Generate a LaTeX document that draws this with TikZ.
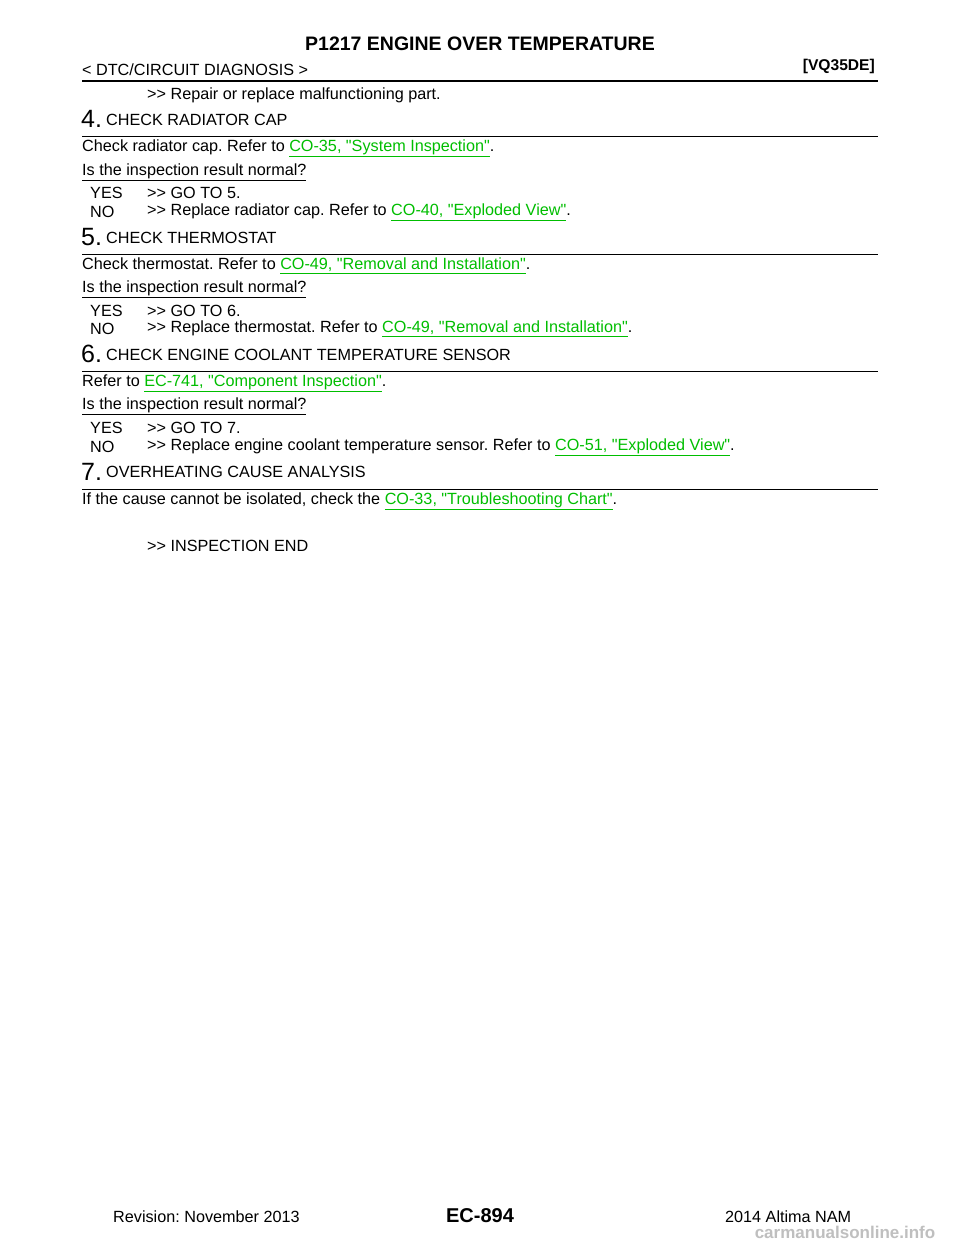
\documentclass[tikz,border=0pt]{standalone}
\usepackage{fontspec}
\setmainfont{Liberation Sans}[Ligatures=TeXOff]
\definecolor{lnk}{RGB}{0,190,0}
\newcommand{\lk}[1]{\textcolor{lnk}{\underline{#1}}}
\frenchspacing
\begin{document}
\begin{tikzpicture}[x=1pt,y=-1pt,
  tx/.style={anchor=west,inner sep=0pt,font=\fontsize{16.2}{18}\selectfont},
  big/.style={anchor=base west,inner sep=0pt,font=\fontsize{25}{28}\selectfont},
  rule/.style={line width=0.8pt}]
\useasboundingbox[fill=white] (0,0) rectangle (960,1242);
\node[anchor=center,inner sep=0pt,font=\fontsize{19.5}{22}\selectfont\bfseries] (title) at (480,44) {P1217 ENGINE OVER TEMPERATURE};
\node[tx] (dtc) at (82,70) {< DTC/CIRCUIT DIAGNOSIS >};
\node[anchor=east,inner sep=0pt,font=\fontsize{15.6}{18}\selectfont\bfseries] (vq) at (875,66) {[VQ35DE]};
\draw[line width=2pt] (82,81) -- (878,81);
\node[tx] (r0) at (147,95) {>> Repair or replace malfunctioning part.};
% 4
\node[big] (s4n) at (81,127) {4.};
\node[tx] (s4) at (106,120) {CHECK RADIATOR CAP};
\draw[rule] (82,136) -- (878,136);
\node[tx] (c4) at (82,148) {Check radiator cap. Refer to \lk{CO-35, "System Inspection"}.};
\node[tx] (q4) at (82,172) {\underline{Is the inspection result normal?}};
\node[tx] (y4) at (90,193) {YES};
\node[tx] (y4t) at (147,193) {>> GO TO 5.};
\node[tx] (n4) at (90,212) {NO};
\node[tx] (n4t) at (147,212) {>> Replace radiator cap. Refer to \lk{CO-40, "Exploded View"}.};
% 5
\node[big] (s5n) at (81,245) {5.};
\node[tx] (s5) at (106,238) {CHECK THERMOSTAT};
\draw[rule] (82,254) -- (878,254);
\node[tx] (c5) at (82,266) {Check thermostat. Refer to \lk{CO-49, "Removal and Installation"}.};
\node[tx] (q5) at (82,289) {\underline{Is the inspection result normal?}};
\node[tx] (y5) at (90,311) {YES};
\node[tx] (y5t) at (147,311) {>> GO TO 6.};
\node[tx] (n5) at (90,329) {NO};
\node[tx] (n5t) at (147,329) {>> Replace thermostat. Refer to \lk{CO-49, "Removal and Installation"}.};
% 6
\node[big] (s6n) at (81,362) {6.};
\node[tx] (s6) at (106,355) {CHECK ENGINE COOLANT TEMPERATURE SENSOR};
\draw[rule] (82,371) -- (878,371);
\node[tx] (c6) at (82,383) {Refer to \lk{EC-741, "Component Inspection"}.};
\node[tx] (q6) at (82,406) {\underline{Is the inspection result normal?}};
\node[tx] (y6) at (90,428) {YES};
\node[tx] (y6t) at (147,428) {>> GO TO 7.};
\node[tx] (n6) at (90,447) {NO};
\node[tx] (n6t) at (147,447) {>> Replace engine coolant temperature sensor. Refer to \lk{CO-51, "Exploded View"}.};
% 7
\node[big] (s7n) at (81,480) {7.};
\node[tx] (s7) at (106,472) {OVERHEATING CAUSE ANALYSIS};
\draw[rule] (82,489) -- (878,489);
\node[tx] (c7) at (82,501) {If the cause cannot be isolated, check the \lk{CO-33, "Troubleshooting Chart"}.};
\node[tx] (end) at (147,546) {>> INSPECTION END};
% footer
\node[tx] (rev) at (113,1217) {Revision: November 2013};
\node[anchor=center,inner sep=0pt,font=\fontsize{20}{22}\selectfont\bfseries] (pg) at (480,1216) {EC-894};
\node[tx] (alt) at (725,1217) {2014 Altima NAM};
\node[anchor=center,inner sep=0pt,text=black!25,font=\fontsize{17}{20}\selectfont\bfseries] (wm) at (845,1232) {carmanualsonline.info};
\end{tikzpicture}
\end{document}
